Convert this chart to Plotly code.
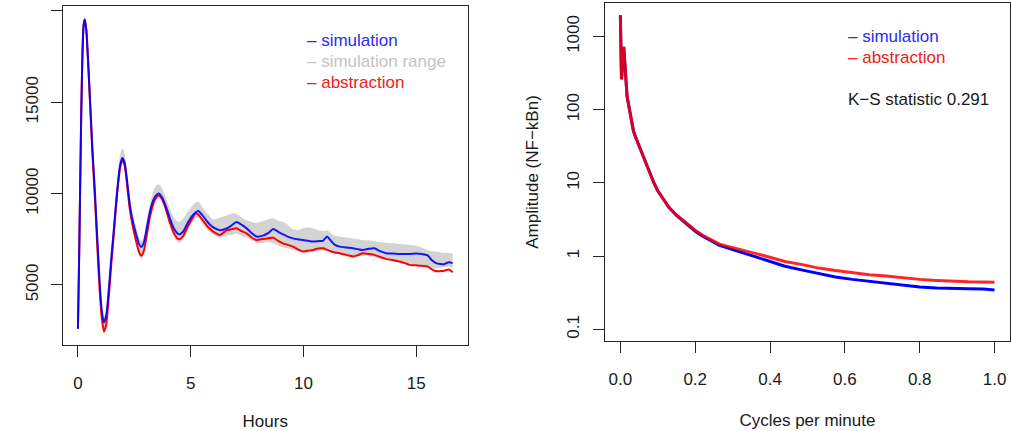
import plotly.graph_objects as go

# ---------------- Left panel: time course ----------------
hours = [0, 0.05, 0.1, 0.15, 0.2, 0.25, 0.3, 0.37, 0.45, 0.55, 0.65, 0.75, 0.82, 0.9, 0.97,
         1.05, 1.15, 1.25, 1.33, 1.41, 1.48, 1.56, 1.67, 1.78, 1.88, 1.97, 2.07, 2.18, 2.3,
         2.45, 2.6, 2.71, 2.81, 2.92, 3.05, 3.19, 3.33, 3.47, 3.6, 3.73, 3.9, 4.07, 4.25,
         4.47, 4.65, 4.85, 5.05, 5.2, 5.34, 5.5, 5.75, 6.0, 6.3, 6.6, 6.8, 7.03, 7.25, 7.48,
         7.7, 7.92, 8.21, 8.45, 8.66, 8.9, 9.1, 9.3, 9.54, 9.75, 9.98, 10.2, 10.43, 10.65,
         10.87, 11.05, 11.2, 11.4, 11.61, 11.9, 12.2, 12.45, 12.64, 12.9, 13.15, 13.4, 13.67,
         14.0, 14.26, 14.5, 14.7, 15.0, 15.25, 15.51, 15.7, 15.88, 16.1, 16.25, 16.45, 16.62]

simulation = [2600, 6200, 10500, 14600, 17600, 19200, 19550, 19000, 17300, 14800, 12300, 10200,
              8500, 6600, 5050, 3700, 2950, 3300, 4200, 5400, 6500, 7600, 9200, 10650, 11600,
              11950, 11700, 10700, 9400, 8400, 7700, 7250, 7080, 7300, 8100, 9000, 9600, 9920,
              10000, 9800, 9300, 8680, 8100, 7770, 7900, 8350, 8750, 8950, 9050, 8850, 8450,
              8150, 8000, 8100, 8250, 8450, 8300, 8100, 7850, 7650, 7700, 7850, 8060, 7900,
              7770, 7650, 7550, 7500, 7460, 7420, 7380, 7400, 7420, 7650, 7450, 7200, 7100,
              7050, 7010, 6950, 6920, 6980, 7010, 6850, 6740, 6720, 6690, 6700, 6690, 6720,
              6700, 6620, 6350, 6200, 6150, 6140, 6250, 6200]

abstraction = [2600, 6200, 10500, 14600, 17600, 19200, 19500, 18950, 17200, 14600, 12000, 9800,
               8100, 6100, 4600, 3300, 2470, 2800, 3800, 5000, 6150, 7300, 9000, 10500, 11500,
               11850, 11550, 10500, 9150, 8100, 7300, 6800, 6600, 6850, 7700, 8700, 9400, 9800,
               9900, 9700, 9150, 8450, 7850, 7500, 7650, 8150, 8600, 8900, 8850, 8600, 8200,
               7920, 7740, 8000, 8050, 8100, 7950, 7830, 7600, 7460, 7520, 7560, 7590, 7400,
               7280, 7200, 7100, 6950, 6830, 6880, 6920, 7000, 7010, 6920, 6850, 6780, 6740,
               6650, 6560, 6650, 6740, 6700, 6650, 6530, 6430, 6350, 6290, 6200, 6100, 6080,
               6050, 6020, 5850, 5750, 5760, 5780, 5850, 5700]

range_upper = [2700, 6300, 10700, 14800, 17800, 19400, 19700, 19200, 17500, 15000, 12600, 10500,
               8800, 6900, 5300, 3900, 3200, 3600, 4500, 5700, 6900, 8000, 9700, 11200, 12200,
               12500, 12200, 11200, 9900, 8800, 8100, 7600, 7400, 7650, 8500, 9400, 10100, 10450,
               10500, 10300, 9800, 9200, 8700, 8450, 8600, 8950, 9300, 9500, 9550, 9300, 8900,
               8600, 8700, 8800, 8900, 8900, 8700, 8550, 8450, 8400, 8500, 8600, 8650, 8500,
               8450, 8300, 8050, 8000, 8100, 8150, 8100, 8000, 7950, 8000, 7850, 7700, 7650,
               7600, 7550, 7500, 7450, 7450, 7400, 7350, 7300, 7280, 7250, 7220, 7200, 7150,
               7050, 6900, 6850, 6830, 6780, 6750, 6750, 6720]

range_lower = [2500, 6100, 10300, 14400, 17400, 19000, 19350, 18800, 17000, 14400, 11800, 9600,
               7900, 5900, 4400, 3100, 2300, 2650, 3650, 4850, 6000, 7150, 8850, 10350, 11350,
               11700, 11400, 10350, 9000, 7950, 7150, 6650, 6400, 6700, 7550, 8550, 9250, 9650,
               9750, 9550, 9000, 8300, 7700, 7300, 7450, 7950, 8400, 8650, 8700, 8400, 8000,
               7750, 7600, 7700, 7750, 7800, 7700, 7600, 7450, 7300, 7300, 7350, 7280, 7150,
               7050, 7000, 6920, 6850, 6800, 6820, 6830, 6880, 6900, 6880, 6800, 6720, 6680,
               6620, 6550, 6560, 6600, 6580, 6520, 6450, 6400, 6300, 6220, 6180, 6100, 6050,
               6000, 5950, 5900, 5920, 5950, 5980, 6000, 5950]

left_xticks = [0, 5, 10, 15]
left_yticks = [5000, 10000, 15000, 20000]
left_ytext = ["5000", "10000", "15000", ""]

# ---------------- Right panel: spectrum ----------------
freq = [0, 0.003, 0.009, 0.013, 0.018, 0.023, 0.027, 0.035, 0.04, 0.05, 0.06, 0.07, 0.08,
        0.09, 0.1, 0.115, 0.13, 0.15, 0.175, 0.2, 0.22, 0.245, 0.265, 0.29, 0.31, 0.335,
        0.355, 0.38, 0.4, 0.44, 0.49, 0.53, 0.575, 0.62, 0.665, 0.71, 0.755, 0.8, 0.845,
        0.89, 0.93, 0.97, 1.0]

amp_simulation = [1950, 260, 720, 330, 151, 110, 81, 51, 43, 32, 23, 17.3, 13.1, 9.9, 7.8, 6.0,
                  4.62, 3.6, 2.78, 2.19, 1.87, 1.58, 1.40, 1.28, 1.19, 1.06, 1.0, 0.91, 0.845,
                  0.73, 0.64, 0.575, 0.519, 0.482, 0.453, 0.421, 0.399, 0.379, 0.368, 0.36,
                  0.358, 0.355, 0.345]

amp_abstraction = [1950, 260, 720, 330, 151, 110, 81, 51, 43, 32, 23, 17.3, 13.1, 9.9, 7.8, 6.0,
                   4.65, 3.65, 2.84, 2.26, 1.93, 1.65, 1.46, 1.35, 1.28, 1.17, 1.11, 1.03, 0.97,
                   0.845, 0.76, 0.687, 0.638, 0.593, 0.557, 0.535, 0.503, 0.482, 0.467, 0.453,
                   0.446, 0.444, 0.44]

right_xticks = [0.0, 0.2, 0.4, 0.6, 0.8, 1.0]
right_xtext = ["0.0", "0.2", "0.4", "0.6", "0.8", "1.0"]
right_yticks = [0.1, 1, 10, 100, 1000]
right_ytext = ["0.1", "1", "10", "100", "1000"]

ks_label = "K\u2212S statistic 0.291"

# ---------------- styling ----------------
W, H = 1011, 431
FONT = "Liberation Sans, Arial, Helvetica, sans-serif"
FS = 17
BLUE = "#0000ff"
RED = "#ff0000"
GRAY = "#d3d3d3"
AX = "#262626"


def px(x):
    return x / W


def py(y):
    return 1 - y / H


fig = go.Figure()

# gray band
fig.add_trace(go.Scatter(x=hours, y=range_lower, mode="lines", line=dict(width=0, color=GRAY, shape="spline", smoothing=0.6),
                         xaxis="x", yaxis="y", showlegend=False, hoverinfo="skip"))
fig.add_trace(go.Scatter(x=hours, y=range_upper, mode="lines", line=dict(width=0, color=GRAY, shape="spline", smoothing=0.6),
                         fill="tonexty", fillcolor=GRAY, xaxis="x", yaxis="y", showlegend=False, hoverinfo="skip"))
fig.add_trace(go.Scatter(x=hours, y=abstraction, mode="lines", line=dict(width=2, color=RED, shape="spline", smoothing=0.6),
                         xaxis="x", yaxis="y", showlegend=False))
fig.add_trace(go.Scatter(x=hours, y=simulation, mode="lines", line=dict(width=2, color=BLUE, shape="spline", smoothing=0.6),
                         opacity=0.9, xaxis="x", yaxis="y", showlegend=False))

fig.add_trace(go.Scatter(x=freq, y=amp_simulation, mode="lines", line=dict(width=3, color=BLUE),
                         xaxis="x2", yaxis="y2", showlegend=False))
fig.add_trace(go.Scatter(x=freq, y=amp_abstraction, mode="lines", line=dict(width=3, color=RED),
                         opacity=0.85, xaxis="x2", yaxis="y2", showlegend=False))

common_axis = dict(showline=True, linecolor=AX, linewidth=1, mirror=True, showgrid=False,
                   zeroline=False, ticks="outside", ticklen=11, tickcolor=AX, tickwidth=1,
                   tickfont=dict(family=FONT, size=FS, color="#1a1a1a"))

fig.update_layout(
    width=W, height=H, margin=dict(l=0, r=0, t=0, b=0),
    paper_bgcolor="white", plot_bgcolor="white", showlegend=False,
    xaxis=dict(domain=[px(63), px(468)], range=[-0.665, 17.28], anchor="y",
               tickmode="array", tickvals=left_xticks, ticklabelstandoff=12,
               title=dict(text="Hours", font=dict(family=FONT, size=FS, color="#1a1a1a"), standoff=26),
               **common_axis),
    yaxis=dict(domain=[py(347), py(6)], range=[1739, 20272], anchor="x",
               tickmode="array", tickvals=left_yticks, ticktext=left_ytext, tickangle=-90,
               ticklabelstandoff=6, **common_axis),
    xaxis2=dict(domain=[px(606), px(1010.5)], range=[-0.04, 1.04], anchor="y2",
                tickmode="array", tickvals=right_xticks, ticktext=right_xtext, ticklabelstandoff=12,
                title=dict(text="Cycles per minute", font=dict(family=FONT, size=FS, color="#1a1a1a"), standoff=26),
                **common_axis),
    yaxis2=dict(domain=[py(343), py(3.3)], type="log", range=[-1.153, 3.453], anchor="x2",
                tickmode="array", tickvals=right_yticks, ticktext=right_ytext, tickangle=-90,
                ticklabelstandoff=8,
                title=dict(text="Amplitude (NF\u2212kBn)", font=dict(family=FONT, size=FS, color="#1a1a1a"), standoff=20),
                **common_axis),
)

annos = [
    (305, 40.7, "\u2013 simulation", "#2a2af5"),
    (305, 61.7, "\u2013 simulation range", "#c4c4c4"),
    (305, 83.0, "\u2013 abstraction", "#f02020"),
    (847, 36.7, "\u2013 simulation", "#2a2af5"),
    (847, 58.3, "\u2013 abstraction", "#f02020"),
    (847, 100.0, ks_label, "#1a1a1a"),
]
for x, y, t, c in annos:
    fig.add_annotation(x=px(x), y=py(y), xref="paper", yref="paper", text=t, showarrow=False,
                       xanchor="left", yanchor="middle", font=dict(family=FONT, size=FS, color=c))

fig.write_html("out.html")
